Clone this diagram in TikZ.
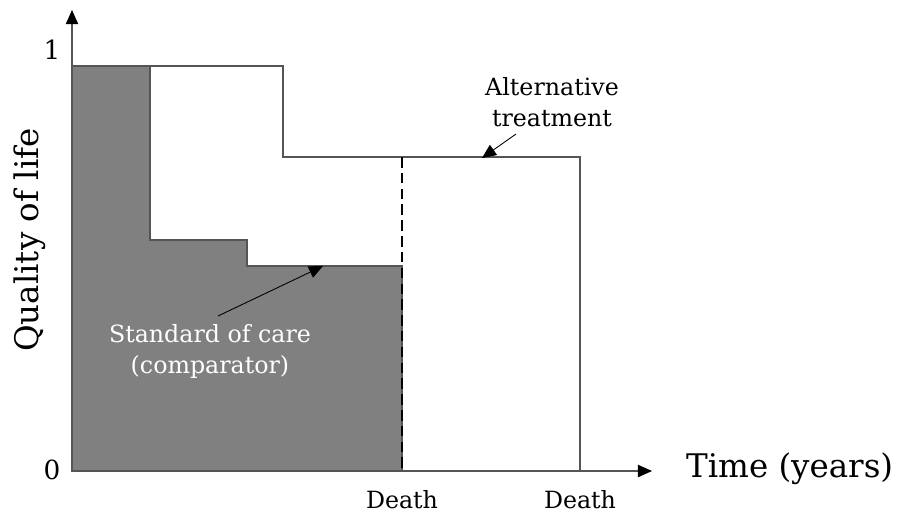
\documentclass[tikz,border=0pt]{standalone}
\usepackage{fontspec}
\setmainfont{DejaVu Serif}
\usetikzlibrary{arrows.meta, positioning}
\definecolor{qolFill}{HTML}{808080}
\definecolor{qolLine}{HTML}{555555}

\begin{document}
\begin{tikzpicture}[
  x=0.02cm, y=-0.02cm,
  axis/.style={draw=qolLine, line width=0.6pt, -{Triangle[length=8pt, width=7pt, color=black]}},
  curve/.style={draw=qolLine, line width=0.6pt},
  pointer/.style={draw=black, line width=0.5pt, -{Triangle[length=8pt, width=7pt]}},
  lbl/.style={font=\fontsize{13.5}{17.6}\selectfont, align=center, inner sep=1pt},
  tick/.style={font=\fontsize{15}{18}\selectfont, inner sep=1pt},
  title/.style={font=\fontsize{18.5}{22}\selectfont, inner sep=1pt},
]
  \useasboundingbox (0,0) rectangle (905,515);

  % points
  \coordinate (O) at (72,471);
  \coordinate (yTop) at (72,10);
  \coordinate (xEnd) at (652,471);

  % standard of care (filled)
  \path[fill=qolFill, curve] (O) -- (72,66) -- (150,66) -- (150,240)
    -- (247,240) -- (247,266) -- (402,266) -- (402,471) -- cycle;

  % alternative treatment
  \draw[curve] (150,66) -- (283,66) -- (283,157) -- (580,157) -- (580,471);
  \draw[black, line width=1.2pt, dash pattern=on 6pt off 3pt] (402,157) -- (402,471);

  % axes
  \draw[axis] (O) -- (yTop);
  \draw[axis] (O) -- (xEnd);
  \node[title, anchor=west] (xTitle) at (684,469) {Time (years)};
  \node[title, rotate=90] (yTitle) at (30,240) {Quality of life};
  \node[tick] (tickOne) at (52,50) {1};
  \node[tick] (tickZero) at (52,470) {0};
  \node[lbl] (deathSoc) at (402,500) {Death};
  \node[lbl] (deathAlt) at (580,500) {Death};

  % labels
  \node[lbl] (altTxt) at (552,102) {Alternative\\treatment};
  \coordinate (altFrom) at (516,134);
  \coordinate (altTip) at (482,158);
  \draw[pointer] (altFrom) -- (altTip);

  \node[lbl, text=white] (socTxt) at (210,351) {Standard of care\\(comparator)};
  \coordinate (socFrom) at (218,316);
  \coordinate (socTip) at (323,266);
  \draw[pointer] (socFrom) -- (socTip);
\end{tikzpicture}
\end{document}
